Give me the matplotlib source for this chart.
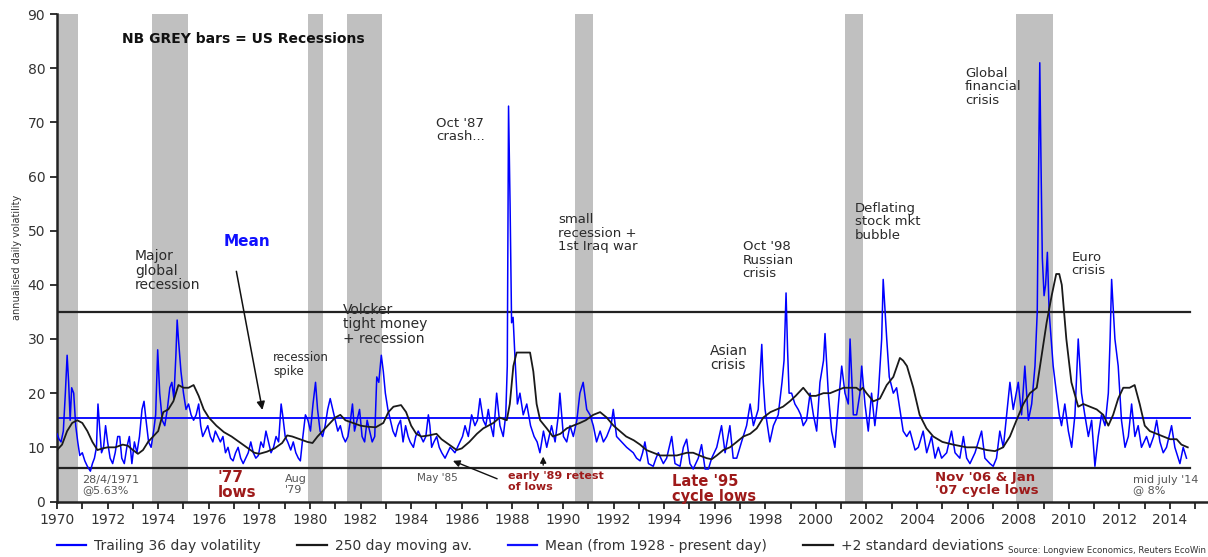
import matplotlib.pyplot as plt
from matplotlib.lines import Line2D

# US recessions (decimal years)
rec_start = [1970.0, 1973.77, 1979.93, 1981.45, 1990.47, 2001.17, 2007.91]
rec_end = [1970.84, 1975.19, 1980.5, 1982.86, 1991.17, 2001.87, 2009.38]

# Trailing 36 day volatility
vol_years = [
    1970.00, 1970.08, 1970.16, 1970.25, 1970.33, 1970.40, 1970.46, 1970.52, 1970.58, 1970.66,
    1970.74, 1970.82, 1970.90, 1971.00, 1971.10, 1971.20, 1971.32, 1971.40, 1971.48, 1971.56,
    1971.62, 1971.68, 1971.76, 1971.84, 1971.92, 1972.00, 1972.10, 1972.20, 1972.30, 1972.40,
    1972.48, 1972.56, 1972.66, 1972.76, 1972.86, 1972.96, 1973.06, 1973.16, 1973.26, 1973.36,
    1973.44, 1973.52, 1973.62, 1973.72, 1973.82, 1973.90, 1973.98, 1974.06, 1974.16, 1974.26,
    1974.36, 1974.46, 1974.54, 1974.62, 1974.70, 1974.75, 1974.80, 1974.90, 1975.00, 1975.10,
    1975.20, 1975.30, 1975.40, 1975.50, 1975.60, 1975.68, 1975.76, 1975.86, 1975.96, 1976.06,
    1976.16, 1976.26, 1976.36, 1976.46, 1976.56, 1976.66, 1976.76, 1976.86, 1976.96, 1977.06,
    1977.16, 1977.26, 1977.36, 1977.46, 1977.56, 1977.66, 1977.76, 1977.86, 1977.96, 1978.06,
    1978.16, 1978.26, 1978.36, 1978.46, 1978.56, 1978.66, 1978.76, 1978.86, 1978.92, 1979.02,
    1979.12, 1979.24, 1979.34, 1979.44, 1979.54, 1979.62, 1979.72, 1979.82, 1979.92, 1980.02,
    1980.12, 1980.22, 1980.30, 1980.40, 1980.50, 1980.60, 1980.70, 1980.80, 1980.90, 1981.00,
    1981.10, 1981.20, 1981.30, 1981.40, 1981.50, 1981.60, 1981.68, 1981.76, 1981.86, 1981.96,
    1982.06, 1982.16, 1982.26, 1982.36, 1982.46, 1982.56, 1982.64, 1982.72, 1982.82, 1982.90,
    1982.98, 1983.08, 1983.18, 1983.28, 1983.38, 1983.48, 1983.58, 1983.68, 1983.78, 1983.88,
    1983.96, 1984.09, 1984.18, 1984.28, 1984.38, 1984.48, 1984.58, 1984.68, 1984.74, 1984.81,
    1984.90, 1985.01, 1985.11, 1985.21, 1985.34, 1985.44, 1985.54, 1985.64, 1985.73, 1985.83,
    1985.93, 1986.03, 1986.13, 1986.26, 1986.39, 1986.52, 1986.62, 1986.72, 1986.85, 1986.95,
    1987.05, 1987.15, 1987.25, 1987.38, 1987.51, 1987.64, 1987.74, 1987.80, 1987.85, 1987.91,
    1987.97, 1988.03, 1988.10, 1988.20, 1988.30, 1988.43, 1988.57, 1988.72, 1988.86, 1988.98,
    1989.09, 1989.23, 1989.36, 1989.55, 1989.69, 1989.82, 1989.88, 1990.02, 1990.15, 1990.28,
    1990.41, 1990.55, 1990.67, 1990.80, 1990.94, 1991.07, 1991.20, 1991.33, 1991.47, 1991.60,
    1991.73, 1991.90, 1991.99, 1992.12, 1992.22, 1992.32, 1992.42, 1992.52, 1992.65, 1992.78,
    1992.91, 1993.05, 1993.15, 1993.24, 1993.38, 1993.57, 1993.68, 1993.77, 1993.97, 1994.10,
    1994.20, 1994.30, 1994.43, 1994.63, 1994.76, 1994.89, 1995.02, 1995.15, 1995.35, 1995.48,
    1995.62, 1995.75, 1995.88, 1996.08, 1996.27, 1996.41, 1996.60, 1996.73, 1996.87, 1997.06,
    1997.26, 1997.40, 1997.53, 1997.72, 1997.80, 1997.86, 1997.92, 1997.99, 1998.18, 1998.32,
    1998.51, 1998.66, 1998.74, 1998.82, 1998.88, 1998.94, 1999.04, 1999.17, 1999.30, 1999.40,
    1999.50, 1999.63, 1999.77, 1999.90, 2000.03, 2000.16, 2000.30, 2000.36, 2000.49, 2000.62,
    2000.75, 2000.89, 2001.02, 2001.15, 2001.28, 2001.35, 2001.48, 2001.61, 2001.74, 2001.81,
    2001.94, 2002.07, 2002.20, 2002.33, 2002.47, 2002.60, 2002.66, 2002.80, 2002.90, 2003.06,
    2003.19, 2003.32, 2003.45, 2003.59, 2003.72, 2003.92, 2004.05, 2004.24, 2004.38, 2004.57,
    2004.71, 2004.84, 2004.97, 2005.17, 2005.36, 2005.50, 2005.69, 2005.83, 2005.96, 2006.09,
    2006.29, 2006.42, 2006.55, 2006.68, 2006.88, 2007.01, 2007.14, 2007.27, 2007.41, 2007.54,
    2007.67, 2007.80, 2008.00, 2008.13, 2008.26, 2008.40, 2008.53, 2008.66, 2008.75, 2008.80,
    2008.85, 2008.90, 2008.95, 2009.02, 2009.08, 2009.15, 2009.22, 2009.30, 2009.38, 2009.51,
    2009.62, 2009.71, 2009.84, 2009.98, 2010.11, 2010.24, 2010.37, 2010.50, 2010.63, 2010.77,
    2010.90, 2011.03, 2011.16, 2011.29, 2011.43, 2011.56, 2011.63, 2011.69, 2011.76, 2011.82,
    2011.95, 2012.08, 2012.22, 2012.35, 2012.48, 2012.61, 2012.74, 2012.87, 2013.07, 2013.20,
    2013.35, 2013.47, 2013.60, 2013.73, 2013.86, 2014.06, 2014.19, 2014.39, 2014.52, 2014.65,
]
vol_values = [
    12.5, 11.5, 11.0, 13.0, 20.0, 27.0, 22.0, 15.0, 21.0, 20.0,
    14.0, 11.0, 8.5, 9.0, 7.5, 6.5, 5.6, 7.0, 8.0, 10.0,
    18.0, 14.0, 9.0, 10.0, 14.0, 11.0, 8.0, 7.0, 9.0, 12.0,
    12.0, 8.0, 7.0, 10.0, 12.0, 7.0, 11.0, 9.0, 12.0, 17.0,
    18.5, 15.0, 11.0, 10.0, 13.0, 16.0, 28.0, 20.0, 15.0, 14.0,
    17.0, 21.0, 22.0, 19.0, 27.0, 33.5, 30.0, 24.0, 20.0, 17.0,
    18.0, 16.0, 15.0, 16.0, 18.0, 14.0, 12.0, 13.0, 14.0, 12.0,
    11.0, 13.0, 12.0, 11.0, 12.0, 9.0, 10.0, 8.0, 7.5, 9.0,
    10.0, 8.0, 7.0, 8.0, 9.0, 11.0, 9.0, 8.0, 8.5, 11.0,
    10.0, 13.0, 11.0, 9.0, 10.0, 12.0, 11.0, 18.0, 16.0, 12.0,
    11.0, 9.5, 11.0, 9.0, 8.0, 7.5, 12.0, 16.0, 15.0, 13.0,
    18.0, 22.0, 17.0, 13.0, 12.0, 14.0, 17.0, 19.0, 17.0, 15.0,
    13.0, 14.0, 12.0, 11.0, 12.0, 15.0, 18.0, 13.0, 15.0, 17.0,
    12.0, 11.0, 15.0, 13.0, 11.0, 12.0, 23.0, 22.0, 27.0, 24.0,
    20.0, 17.0, 15.0, 13.0, 12.0, 14.0, 15.0, 11.0, 14.0, 12.0,
    11.0, 10.0, 12.0, 13.0, 12.0, 11.0, 12.0, 16.0, 14.0, 10.0,
    11.0, 12.0, 10.0, 9.0, 8.0, 9.0, 10.0, 9.5, 9.0, 10.0,
    11.0, 12.0, 14.0, 12.0, 16.0, 14.0, 15.0, 19.0, 15.0, 14.0,
    17.0, 14.0, 12.0, 20.0, 14.0, 12.0, 16.0, 25.0, 73.0, 55.0,
    33.0, 34.0, 27.0, 18.0, 20.0, 16.0, 18.0, 14.0, 12.0, 11.0,
    9.0, 13.0, 10.0, 14.0, 11.0, 16.0, 20.0, 12.0, 11.0, 14.0,
    12.0, 15.0, 20.0, 22.0, 17.0, 16.0, 14.0, 11.0, 13.0, 11.0,
    12.0, 14.0, 17.0, 12.0, 11.5, 11.0, 10.5, 10.0, 9.5, 9.0,
    8.0, 7.5, 9.0, 11.0, 7.0, 6.5, 8.0, 9.0, 7.0, 8.0,
    10.0, 12.0, 7.0, 6.5, 10.0, 11.5, 7.0, 6.0, 8.0, 10.5,
    6.0, 6.0, 8.0, 10.0, 14.0, 9.0, 14.0, 8.0, 8.0, 11.0,
    14.0, 18.0, 14.0, 17.0, 24.0, 29.0, 22.0, 17.0, 11.0, 14.0,
    16.0, 22.0, 26.0, 38.5, 28.0, 20.0, 20.0, 18.0, 17.0, 16.0,
    14.0, 15.0, 20.0, 16.0, 13.0, 22.0, 26.0, 31.0, 20.0, 13.0,
    10.0, 18.0, 25.0, 20.0, 18.0, 30.0, 16.0, 16.0, 20.0, 25.0,
    18.0, 13.0, 20.0, 14.0, 20.0, 30.0, 41.0, 30.0, 23.0, 20.0,
    21.0, 17.0, 13.0, 12.0, 13.0, 9.5, 10.0, 13.0, 9.0, 12.0,
    8.0, 10.0, 8.0, 9.0, 13.0, 9.0, 8.0, 12.0, 8.0, 7.0,
    9.0, 11.0, 13.0, 8.0, 7.0, 6.5, 8.0, 13.0, 10.0, 16.0,
    22.0, 17.0, 22.0, 16.0, 25.0, 15.0, 18.0, 25.0, 35.0, 60.0,
    81.0, 62.0, 45.0, 38.0, 40.0, 46.0, 35.0, 30.0, 25.0, 20.0,
    16.0, 14.0, 18.0, 13.0, 10.0, 16.0, 30.0, 20.0, 16.0, 12.0,
    15.0, 6.5, 12.0, 16.0, 14.0, 20.0, 30.0, 41.0, 35.0, 30.0,
    25.0, 15.0, 10.0, 12.0, 18.0, 12.0, 14.0, 10.0, 12.0, 10.0,
    12.0, 15.0, 11.0, 9.0, 10.0, 14.0, 10.0, 7.0, 10.0, 8.0,
]

# 250 day moving average
ma_years = [
    1970.0, 1970.2, 1970.4, 1970.6, 1970.8, 1971.0, 1971.2, 1971.4, 1971.6, 1971.8,
    1972.0, 1972.3, 1972.6, 1972.8, 1973.0, 1973.2, 1973.4, 1973.6, 1973.8, 1974.0,
    1974.2, 1974.4, 1974.6, 1974.8, 1975.0, 1975.2, 1975.4, 1975.6, 1975.8, 1976.0,
    1976.3, 1976.6, 1976.9, 1977.2, 1977.5, 1977.8, 1978.0, 1978.3, 1978.6, 1978.9,
    1979.1, 1979.3, 1979.6, 1979.9, 1980.1, 1980.3, 1980.5, 1980.8, 1981.0, 1981.2,
    1981.4, 1981.7, 1982.0, 1982.3, 1982.6, 1982.9, 1983.1, 1983.3, 1983.6, 1983.8,
    1984.0, 1984.2, 1984.4, 1984.7, 1985.0, 1985.2, 1985.5, 1985.8, 1986.0, 1986.3,
    1986.6, 1986.85, 1987.25, 1987.5, 1987.78, 1987.9, 1988.04, 1988.17, 1988.43, 1988.7,
    1988.83, 1988.96, 1989.1, 1989.36, 1989.6, 1989.9, 1990.15, 1990.4, 1990.67, 1990.9,
    1991.2, 1991.47, 1991.73, 1992.0, 1992.25, 1992.5, 1992.8, 1993.05, 1993.3, 1993.57,
    1993.84, 1994.1, 1994.5, 1994.9, 1995.15, 1995.4, 1995.68, 1995.88, 1996.08, 1996.34,
    1996.6, 1996.87, 1997.13, 1997.4, 1997.66, 1997.92, 1998.2, 1998.45, 1998.7, 1998.97,
    1999.2, 1999.5, 1999.76, 2000.0, 2000.3, 2000.56, 2000.82, 2001.1, 2001.35, 2001.6,
    2001.74, 2001.85, 2002.0, 2002.27, 2002.53, 2002.8, 2003.06, 2003.32, 2003.45, 2003.6,
    2003.85, 2004.1, 2004.37, 2004.64, 2005.0, 2005.43, 2005.96, 2006.35, 2006.75, 2007.08,
    2007.4, 2007.67, 2007.93, 2008.2, 2008.46, 2008.73, 2008.86, 2009.12, 2009.32, 2009.5,
    2009.62, 2009.72, 2009.9, 2010.1, 2010.37, 2010.57, 2010.83, 2011.1, 2011.36, 2011.56,
    2011.75, 2011.95, 2012.15, 2012.4, 2012.6, 2012.8, 2013.0, 2013.2, 2013.47, 2013.73,
    2014.0, 2014.26, 2014.45, 2014.7,
]
ma_values = [
    9.5, 10.5, 13.0, 14.5, 15.0, 14.5, 13.0, 11.0, 9.5, 9.8,
    10.0, 10.0, 10.5, 10.3, 9.5, 8.8, 9.5, 11.0, 12.0, 13.0,
    16.5, 17.0, 18.5, 21.5, 21.0, 21.0, 21.5, 19.5, 17.0, 15.5,
    14.0, 12.8, 12.0, 11.0, 10.0, 9.0, 8.8, 9.2, 9.8, 10.8,
    12.2, 12.0, 11.5, 11.0, 10.8, 12.0, 13.0, 14.5, 15.5, 16.0,
    15.0, 14.5, 14.0, 13.8, 13.7, 14.5, 16.5, 17.5, 17.8, 16.5,
    14.0, 12.5, 12.0, 12.2, 12.5, 11.5, 10.5, 9.5, 9.8, 11.0,
    12.5, 13.5, 14.5, 15.5, 15.0, 18.0, 25.0, 27.5, 27.5, 27.5,
    24.0, 18.0, 15.0, 13.5, 12.0, 12.5, 13.5, 14.0, 14.5, 15.0,
    16.0, 16.5, 15.5, 14.0, 13.0, 12.0, 11.3, 10.5, 9.5, 9.0,
    8.5, 8.5, 8.5, 9.0, 9.0, 8.5, 8.0, 7.8, 8.5, 9.5,
    10.0, 11.0, 12.0, 12.5, 13.5, 15.5, 16.5, 17.0, 17.5, 18.5,
    19.5, 21.0, 19.5, 19.5, 20.0, 20.0, 20.5, 21.0, 21.0, 21.0,
    20.5, 21.0, 20.0, 18.5, 19.0, 21.5, 23.0, 26.5, 26.0, 25.0,
    21.0, 16.0, 13.5, 12.0, 11.0, 10.5, 10.0, 10.0, 9.5, 9.3,
    10.0, 12.0, 15.0, 18.0, 20.0, 21.0, 25.0, 33.0, 38.0, 42.0,
    42.0, 40.0, 30.0, 22.0, 17.5, 18.0, 17.5, 17.0, 16.0, 14.0,
    16.0, 19.0, 21.0, 21.0, 21.5, 18.0, 14.0, 13.0, 12.5, 12.0,
    11.5, 11.5, 10.5, 10.0,
]

# reference levels
mean_level = 15.4
upper_band = 34.9
lower_band = 6.1
band_start, band_end = 1970, 2014.8

fig = plt.figure(figsize=(12.08, 5.57), dpi=100)
ax = fig.add_axes([57 / 1208, 1 - 501.5 / 557, 1 - 57 / 1208, (501.5 - 14) / 557])

for s, e in zip(rec_start, rec_end):
    ax.axvspan(s, e, color="#c0c0c0", lw=0, zorder=0)

ax.plot([band_start, band_end], [upper_band, upper_band], color="#222222", lw=1.6, zorder=2)
ax.plot([band_start, band_end], [lower_band, lower_band], color="#222222", lw=1.6, zorder=2)
ax.plot([band_start, band_end], [mean_level, mean_level], color="#1010ff", lw=1.4, zorder=2)
ax.plot(vol_years, vol_values, color="#0000ff", lw=1.1, zorder=3)
ax.plot(ma_years, ma_values, color="#1a1a1a", lw=1.3, zorder=4)

ax.set_xlim(1970, 2015.5)
ax.set_ylim(0, 90)
years = list(range(1970, 2016))
ax.set_xticks(years, labels=[str(y) if y % 2 == 0 and y < 2015 else "" for y in years])
ax.set_yticks(range(0, 91, 10))
ax.tick_params(direction="out", length=5, width=1.4, labelsize=10, colors="#333333")
for side in ["top", "right"]:
    ax.spines[side].set_visible(False)
for side in ["left", "bottom"]:
    ax.spines[side].set_linewidth(1.8)
    ax.spines[side].set_color("#222222")
ax.set_ylabel("annualised daily volatility", fontsize=7, color="#333333", labelpad=4)

dark = "#2a2a2a"
grey = "#555555"
red = "#9e1a1a"
ls = 1.05

ax.text(1972.57, 85.3, "NB GREY bars = US Recessions", fontsize=10, fontweight="bold",
        color="#111111", va="center", zorder=5)
ax.text(1976.6, 48.0, "Mean", fontsize=11, fontweight="bold", color="#1010ff", va="center")
ax.annotate("", xy=(1978.14, 16.4), xytext=(1977.07, 43.0),
            arrowprops=dict(arrowstyle="-|>", color="#111111", lw=1.1, mutation_scale=12))

notes = [
    (1973.08, 46.6, "Major\nglobal\nrecession", 10),
    (1981.29, 36.7, "Volcker\ntight money\n+ recession", 10),
    (1978.55, 27.7, "recession\nspike", 8.5),
    (1985.0, 71.0, "Oct '87\ncrash...", 9.5),
    (1989.81, 53.2, "small\nrecession +\n1st Iraq war", 9.5),
    (1997.1, 48.2, "Oct '98\nRussian\ncrisis", 9.5),
    (1995.81, 29.1, "Asian\ncrisis", 10),
    (2001.54, 55.3, "Deflating\nstock mkt\nbubble", 9.5),
    (2005.89, 80.3, "Global\nfinancial\ncrisis", 9.5),
    (2010.1, 46.3, "Euro\ncrisis", 9.5),
]
for x, y, t, fs in notes:
    ax.text(x, y, t, fontsize=fs, color=dark, va="top", ha="left", linespacing=ls, zorder=5)

small = [
    (1970.98, 4.9, "28/4/1971\n@5.63%"),
    (1979.01, 5.0, "Aug\n'79"),
    (2012.54, 4.9, "mid july '14\n@ 8%"),
]
for x, y, t in small:
    ax.text(x, y, t, fontsize=8, color=grey, va="top", ha="left", linespacing=ls, zorder=5)
ax.text(1984.22, 4.3, "May '85", fontsize=7.5, color=grey, va="center", ha="left")
ax.annotate("", xy=(1985.55, 7.7), xytext=(1987.5, 4.0),
            arrowprops=dict(arrowstyle="-|>", color="#111111", lw=1.0, mutation_scale=10))

ax.text(1976.35, 5.9, "'77\nlows", fontsize=11, fontweight="bold", color=red, va="top",
        linespacing=1.0)
ax.text(1987.84, 5.6, "early '89 retest\nof lows", fontsize=8, fontweight="bold", color=red,
        va="top", linespacing=ls)
ax.annotate("", xy=(1989.22, 8.8), xytext=(1989.22, 6.2),
            arrowprops=dict(arrowstyle="-|>", color="#111111", lw=1.0, mutation_scale=9))
ax.text(1994.3, 5.1, "Late '95\ncycle lows", fontsize=10.5, fontweight="bold", color=red,
        va="top", linespacing=ls)
ax.text(2004.7, 5.7, "Nov '06 & Jan\n'07 cycle lows", fontsize=9.5, fontweight="bold",
        color=red, va="top", linespacing=ls)

handles = [
    Line2D([], [], color="#0000ff", lw=1.6),
    Line2D([], [], color="#1a1a1a", lw=1.6),
    Line2D([], [], color="#1010ff", lw=1.6),
    Line2D([], [], color="#1a1a1a", lw=1.6),
]
labels = ["Trailing 36 day volatility", "250 day moving av.",
          "Mean (from 1928 - present day)", "+2 standard deviations"]
fig.legend(handles, labels, loc="center left", bbox_to_anchor=(57 / 1208, 1 - 546 / 557),
           ncol=4, frameon=False, fontsize=10, handlelength=2.1, handletextpad=0.6,
           columnspacing=2.6, borderpad=0, borderaxespad=0, labelcolor="#333333")

# source line, squeezed into the bottom-right corner
fig.text(1206 / 1208, 2 / 557, "Source: Longview Economics, Reuters EcoWin",
         fontsize=6.2, color="#333333", ha="right", va="bottom")

fig.savefig("out.png", dpi=100)
